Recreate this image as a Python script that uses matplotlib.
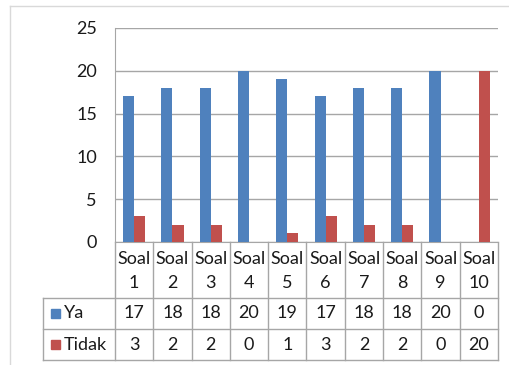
import matplotlib
matplotlib.use("Agg")
import matplotlib.pyplot as plt
import numpy as np

categories = ["Soal\n1", "Soal\n2", "Soal\n3", "Soal\n4", "Soal\n5",
              "Soal\n6", "Soal\n7", "Soal\n8", "Soal\n9", "Soal\n10"]
ya = [17, 18, 18, 20, 19, 17, 18, 18, 20, 0]
tidak = [3, 2, 2, 0, 1, 3, 2, 2, 0, 20]
series = [("Ya", ya, "#4F81BD"), ("Tidak", tidak, "#C0504D")]

plt.rcParams['font.family'] = ['Lato', 'DejaVu Sans']
W, H = 510, 365
fig = plt.figure(figsize=(W / 100, H / 100), dpi=100)

# pixel geometry of the Excel layout
x0, x1 = 115, 498
y_top, y_axis = 28, 242
y_r1, y_r2, y_r3 = 298, 329, 360
x_leg = 43
GRID = "#a6a6a6"
TXT = "#1a1a1a"
fs = 13

ax = fig.add_axes([x0 / W, 1 - y_axis / H, (x1 - x0) / W, (y_axis - y_top) / H])
n = len(categories)
x = np.arange(n)
bw = 0.29
ax.bar(x - bw / 2, ya, bw, color=series[0][2], zorder=3)
ax.bar(x + bw / 2, tidak, bw, color=series[1][2], zorder=3)
ax.set_xlim(-0.5, n - 0.5)
ax.set_ylim(0, 25)
ax.set_yticks([0, 5, 10, 15, 20, 25])
ax.set_xticks([])
ax.grid(axis='y', color=GRID, lw=1, zorder=0)
ax.tick_params(axis='y', length=0, pad=13, labelsize=fs, labelcolor=TXT)
for s in ['top', 'right']:
    ax.spines[s].set_visible(False)
ax.spines['left'].set_color(GRID)
ax.spines['bottom'].set_color(GRID)

# overlay in pixel coords for the data table and chart frame
ov = fig.add_axes([0, 0, 1, 1])
ov.set_xlim(0, W)
ov.set_ylim(H, 0)
ov.axis('off')

# chart frame
ov.plot([10, 10], [6, H], color="#d9d9d9", lw=1)
ov.plot([10, W], [6, 6], color="#d9d9d9", lw=1)

cw = (x1 - x0) / n
for i in range(n + 1):
    xe = x0 + i * cw
    ov.plot([xe, xe], [y_axis, y_r3], color=GRID, lw=1)
for yy in (y_r1, y_r2, y_r3):
    ov.plot([x_leg, x1], [yy, yy], color=GRID, lw=1)
ov.plot([x_leg, x_leg], [y_r1, y_r3], color=GRID, lw=1)

for i, cat in enumerate(categories):
    xc = x0 + (i + 0.5) * cw
    top, bot = cat.split("\n")
    ov.text(xc, 259, top, ha='center', va='center', fontsize=fs, color=TXT)
    ov.text(xc, 283, bot, ha='center', va='center', fontsize=fs, color=TXT)

for r, (name, vals, col) in enumerate(series):
    yc = (y_r1 + y_r2) / 2 if r == 0 else (y_r2 + y_r3) / 2
    ov.add_patch(plt.Rectangle((51, yc - 5), 9, 9, color=col))
    ov.text(64, yc, name, ha='left', va='center', fontsize=fs, color=TXT)
    for i, v in enumerate(vals):
        ov.text(x0 + (i + 0.5) * cw, yc, str(v), ha='center', va='center',
                fontsize=fs, color=TXT)

fig.savefig("out.png", dpi=100)
